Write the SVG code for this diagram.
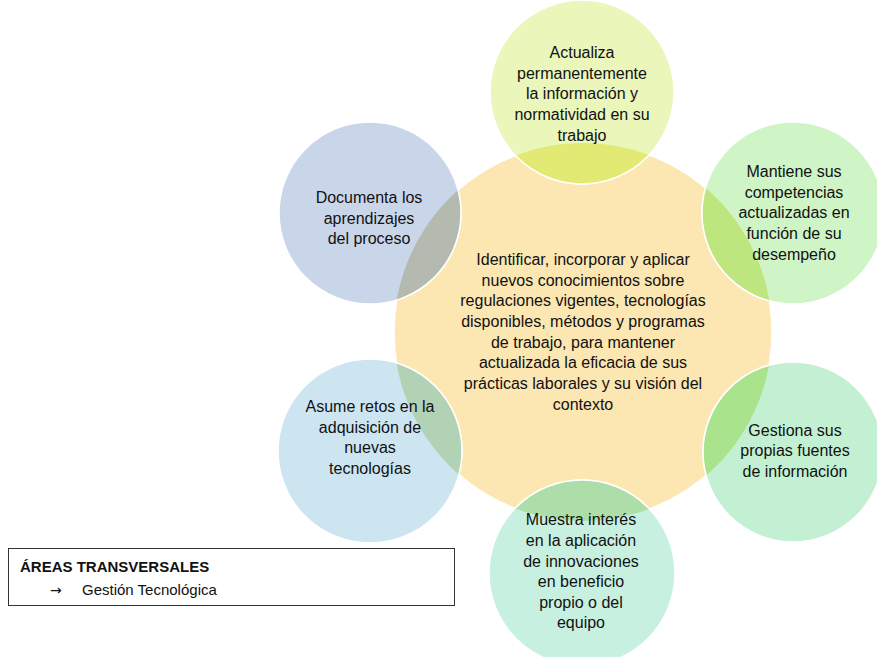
<svg xmlns="http://www.w3.org/2000/svg" width="877" height="657" viewBox="0 0 877 657">
<style>
text{font-family:"Liberation Sans",Arial,sans-serif;font-size:16px;fill:#111;text-anchor:middle}
.sat{stroke:#fff;stroke-width:1.5}
.legend{font-size:15px;text-anchor:start}
.arrow{font-family:"DejaVu Sans",sans-serif;font-size:14px;text-anchor:start}
</style>
<defs>
<clipPath id="cc"><circle cx="583" cy="332" r="189"/></clipPath>
</defs>
<rect width="877" height="657" fill="#fff"/>
<g id="center">
<circle cx="583" cy="332" r="189" fill="#FCE6B1" stroke="#fff" stroke-width="1.5"/>
</g>
<g id="n-top">
<circle class="sat" cx="582" cy="92" r="92" fill="#EAF6BA"/>
<circle class="sat" cx="582" cy="92" r="92" fill="#E3EA74" clip-path="url(#cc)"/>
<text x="582" y="58">Actualiza</text>
<text x="582" y="79">permanentemente</text>
<text x="582" y="99">la información y</text>
<text x="582" y="120">normatividad en su</text>
<text x="582" y="141">trabajo</text>
</g>
<g id="n-topright">
<circle class="sat" cx="793" cy="213" r="91" fill="#CFF4C6"/>
<circle class="sat" cx="793" cy="213" r="91" fill="#BDE67E" clip-path="url(#cc)"/>
<text x="794" y="177">Mantiene sus</text>
<text x="794" y="198">competencias</text>
<text x="794" y="218">actualizadas en</text>
<text x="794" y="239">función de su</text>
<text x="794" y="260">desempeño</text>
</g>
<g id="n-bottomright">
<circle class="sat" cx="793" cy="452" r="90" fill="#C3F0D2"/>
<circle class="sat" cx="793" cy="452" r="90" fill="#A9E38C" clip-path="url(#cc)"/>
<text x="795" y="436">Gestiona sus</text>
<text x="795" y="456">propias fuentes</text>
<text x="795" y="477">de información</text>
</g>
<g id="n-bottom">
<circle class="sat" cx="582" cy="573" r="93" fill="#C8F0E0"/>
<circle class="sat" cx="582" cy="573" r="93" fill="#ADDDA8" clip-path="url(#cc)"/>
<text x="581" y="525">Muestra interés</text>
<text x="581" y="546">en la aplicación</text>
<text x="581" y="567">de innovaciones</text>
<text x="581" y="587">en beneficio</text>
<text x="581" y="608">propio o del</text>
<text x="581" y="628">equipo</text>
</g>
<g id="n-bottomleft">
<circle class="sat" cx="370" cy="451" r="92" fill="#CCE5F0"/>
<circle class="sat" cx="370" cy="451" r="92" fill="#B2D2B6" clip-path="url(#cc)"/>
<text x="370" y="412">Asume retos en la</text>
<text x="370" y="433">adquisición de</text>
<text x="370" y="453">nuevas</text>
<text x="370" y="474">tecnologías</text>
</g>
<g id="n-topleft">
<circle class="sat" cx="370" cy="213" r="91" fill="#C9D6EA"/>
<circle class="sat" cx="370" cy="213" r="91" fill="#B4BAB0" clip-path="url(#cc)"/>
<text x="369" y="203">Documenta los</text>
<text x="369" y="224">aprendizajes</text>
<text x="369" y="244">del proceso</text>
</g>
<g id="center-text">
<text x="583" y="265">Identificar, incorporar y aplicar</text>
<text x="583" y="286">nuevos conocimientos sobre</text>
<text x="583" y="306">regulaciones vigentes, tecnologías</text>
<text x="583" y="327">disponibles, métodos y programas</text>
<text x="583" y="348">de trabajo, para mantener</text>
<text x="583" y="368">actualizada la eficacia de sus</text>
<text x="583" y="389">prácticas laborales y su visión del</text>
<text x="583" y="410">contexto</text>
</g>
<g id="connectors"></g>
<g id="legend">
<rect x="8.5" y="548.5" width="446" height="57" fill="#fff" stroke="#333" stroke-width="1"/>
<text class="legend" x="20" y="572" font-weight="bold">ÁREAS TRANSVERSALES</text>
<text class="arrow" x="50" y="595">→</text>
<text class="legend" x="82" y="595">Gestión Tecnológica</text>
</g>
</svg>
